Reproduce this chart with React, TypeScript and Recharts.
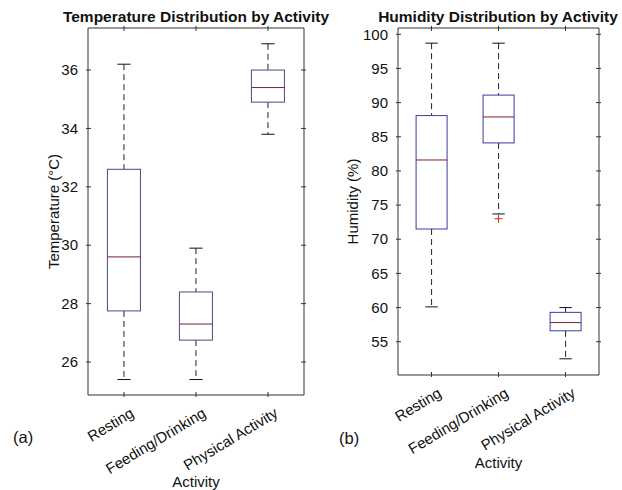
import React from 'react';
import { ComposedChart, Bar, XAxis, YAxis } from 'recharts';

const ACTIVITIES = ['Resting', 'Feeding/Drinking', 'Physical Activity'];

// temperature (°C) box statistics per activity
const TEMP_MIN = [25.4, 25.4, 33.8];
const TEMP_Q1 = [27.75, 26.75, 34.9];
const TEMP_MEDIAN = [29.6, 27.3, 35.4];
const TEMP_Q3 = [32.6, 28.4, 36.0];
const TEMP_MAX = [36.2, 29.9, 36.9];
const TEMP_OUTLIERS: number[][] = [[], [], []];
const TEMP_TICKS = [26, 28, 30, 32, 34, 36];

// humidity (%) box statistics per activity
const HUM_MIN = [60.1, 73.7, 52.5];
const HUM_Q1 = [71.5, 84.1, 56.6];
const HUM_MEDIAN = [81.6, 87.9, 57.8];
const HUM_Q3 = [88.1, 91.1, 59.3];
const HUM_MAX = [98.7, 98.7, 60.0];
const HUM_OUTLIERS: number[][] = [[], [73.0], []];
const HUM_TICKS = [55, 60, 65, 70, 75, 80, 85, 90, 95, 100];

const FONT = '"Liberation Sans", Arial, Helvetica, sans-serif';
const AXIS = '#333';

type BoxRow = {
  activity: string;
  min: number;
  q1: number;
  median: number;
  q3: number;
  max: number;
  outliers: number[];
};

const buildRows = (
  min: number[],
  q1: number[],
  median: number[],
  q3: number[],
  max: number[],
  outliers: number[][]
): BoxRow[] =>
  ACTIVITIES.map((activity, i) => ({
    activity,
    min: min[i],
    q1: q1[i],
    median: median[i],
    q3: q3[i],
    max: max[i],
    outliers: outliers[i],
  }));

const tempRows = buildRows(TEMP_MIN, TEMP_Q1, TEMP_MEDIAN, TEMP_Q3, TEMP_MAX, TEMP_OUTLIERS);
const humRows = buildRows(HUM_MIN, HUM_Q1, HUM_MEDIAN, HUM_Q3, HUM_MAX, HUM_OUTLIERS);

const makeBoxShape = (boxColor: string, medianColor: string) => (props: any) => {
  const { x, y, width, height, payload } = props;
  const p: BoxRow = payload;
  const top = Math.min(y, y + height);
  const bottom = Math.max(y, y + height);
  // bar spans min..max, so map the other stats linearly inside it
  const toY = (v: number) => bottom - ((bottom - top) * (v - p.min)) / (p.max - p.min);
  const cx = x + width / 2;
  const cap = width * 0.2;
  return (
    <g>
      <line x1={cx} x2={cx} y1={toY(p.max)} y2={toY(p.q3)} stroke="#222" strokeDasharray="6 4" />
      <line x1={cx} x2={cx} y1={toY(p.q1)} y2={toY(p.min)} stroke="#222" strokeDasharray="6 4" />
      <line x1={cx - cap} x2={cx + cap} y1={toY(p.max)} y2={toY(p.max)} stroke="#111" />
      <line x1={cx - cap} x2={cx + cap} y1={toY(p.min)} y2={toY(p.min)} stroke="#111" />
      <rect
        x={x}
        y={toY(p.q3)}
        width={width}
        height={toY(p.q1) - toY(p.q3)}
        fill="none"
        stroke={boxColor}
      />
      <line x1={x} x2={x + width} y1={toY(p.median)} y2={toY(p.median)} stroke={medianColor} />
      {p.outliers.map((o, i) => (
        <g key={i} stroke="#d22">
          <line x1={cx - 4} x2={cx + 4} y1={toY(o)} y2={toY(o)} />
          <line x1={cx} x2={cx} y1={toY(o) - 4} y2={toY(o) + 4} />
        </g>
      ))}
    </g>
  );
};

const LeftTick = ({ x, y, payload }: any) => (
  <g>
    <line x1={x} x2={x + 5} y1={y} y2={y} stroke={AXIS} />
    <text x={x - 8} y={y} dy="0.35em" textAnchor="end" fontSize={15} fontFamily={FONT} fill="#111">
      {payload.value}
    </text>
  </g>
);

const RightTick = ({ x, y }: any) => <line x1={x} x2={x - 5} y1={y} y2={y} stroke={AXIS} />;

const TopTick = ({ x, y }: any) => <line x1={x} x2={x} y1={y} y2={y + 5} stroke={AXIS} />;

const BottomTick = ({ x, y, payload }: any) => (
  <g>
    <line x1={x} x2={x} y1={y} y2={y - 5} stroke={AXIS} />
    <text
      transform={`translate(${x + 11},${y + 19}) rotate(-31)`}
      textAnchor="end"
      fontSize={15}
      fontFamily={FONT}
      fill="#111"
    >
      {payload.value}
    </text>
  </g>
);

type PanelProps = {
  rows: BoxRow[];
  domain: [number, number];
  ticks: number[];
  width: number;
  marginRight: number;
  xAxisHeight: number;
  yLabel: string;
  yLabelX: number;
  xLabelDy: number;
  boxColor: string;
  medianColor: string;
};

const BoxPanel = ({
  rows,
  domain,
  ticks,
  width,
  marginRight,
  xAxisHeight,
  yLabel,
  yLabelX,
  xLabelDy,
  boxColor,
  medianColor,
}: PanelProps) => (
  <ComposedChart
    width={width}
    height={490}
    data={rows}
    margin={{ top: 27, right: marginRight, bottom: 0, left: 0 }}
    barCategoryGap="27%"
  >
    <XAxis
      dataKey="activity"
      height={xAxisHeight}
      interval={0}
      tickSize={0}
      tick={<BottomTick />}
      axisLine={{ stroke: AXIS }}
      label={{
        content: ({ viewBox }: any) => (
          <text
            x={viewBox.x + viewBox.width / 2}
            y={viewBox.y + xLabelDy}
            dy="0.35em"
            textAnchor="middle"
            fontSize={15}
            fontFamily={FONT}
            fill="#111"
          >
            Activity
          </text>
        ),
      }}
    />
    <XAxis
      xAxisId="top"
      dataKey="activity"
      orientation="top"
      height={1}
      interval={0}
      tickSize={0}
      tick={<TopTick />}
      axisLine={{ stroke: AXIS }}
    />
    <YAxis
      type="number"
      domain={domain}
      ticks={ticks}
      allowDataOverflow
      width={88}
      tickSize={0}
      tick={<LeftTick />}
      axisLine={{ stroke: AXIS }}
      label={{
        content: ({ viewBox }: any) => {
          const cy = viewBox.y + viewBox.height / 2;
          return (
            <text
              x={viewBox.x + yLabelX}
              y={cy}
              dy="0.35em"
              transform={`rotate(-90, ${viewBox.x + yLabelX}, ${cy})`}
              textAnchor="middle"
              fontSize={15}
              fontFamily={FONT}
              fill="#111"
            >
              {yLabel}
            </text>
          );
        },
      }}
    />
    <YAxis
      yAxisId="right"
      orientation="right"
      type="number"
      domain={domain}
      ticks={ticks}
      allowDataOverflow
      width={1}
      tickSize={0}
      tick={<RightTick />}
      axisLine={{ stroke: AXIS }}
    />
    <Bar
      dataKey={(d: BoxRow) => [d.min, d.max]}
      shape={makeBoxShape(boxColor, medianColor)}
      isAnimationActive={false}
    />
  </ComposedChart>
);

const textStyle: React.CSSProperties = {
  position: 'absolute',
  fontFamily: FONT,
  color: '#111',
  whiteSpace: 'nowrap',
  lineHeight: 1,
};

export default function App() {
  return (
    <div style={{ position: 'absolute', left: 0, top: 0, width: 622, height: 490, background: '#fff' }}>
      <div style={{ position: 'absolute', left: 0, top: 0 }}>
        <BoxPanel
          rows={tempRows}
          domain={[24.87, 37.44]}
          ticks={TEMP_TICKS}
          width={320}
          marginRight={15}
          xAxisHeight={95}
          yLabel="Temperature (°C)"
          yLabelX={54}
          xLabelDy={87}
          boxColor="#4b4b80"
          medianColor="#7a2030"
        />
      </div>
      <div style={{ position: 'absolute', left: 310, top: 0 }}>
        <BoxPanel
          rows={humRows}
          domain={[50.13, 100.92]}
          ticks={HUM_TICKS}
          width={312}
          marginRight={22}
          xAxisHeight={115}
          yLabel="Humidity (%)"
          yLabelX={43}
          xLabelDy={88}
          boxColor="#3a3aa8"
          medianColor="#7a2030"
        />
      </div>
      <div style={{ ...textStyle, left: 46, width: 300, top: 9, textAlign: 'center', fontWeight: 'bold', fontSize: 15.5 }}>
        Temperature Distribution by Activity
      </div>
      <div style={{ ...textStyle, left: 348, width: 300, top: 9, textAlign: 'center', fontWeight: 'bold', fontSize: 15.5 }}>
        Humidity Distribution by Activity
      </div>
      <div style={{ ...textStyle, left: 13, top: 429, fontSize: 16.5 }}>(a)</div>
      <div style={{ ...textStyle, left: 339, top: 430, fontSize: 16.5 }}>(b)</div>
    </div>
  );
}
